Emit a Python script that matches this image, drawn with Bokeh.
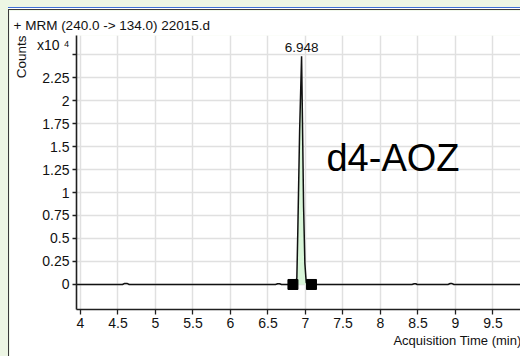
from bokeh.plotting import figure
from bokeh.layouts import column
from bokeh.models import Range1d, FixedTicker, Label, Title
from bokeh.embed import file_html
from bokeh.resources import INLINE

# MRM trace 240.0 -> 134.0, counts in units of 1e4
time_min = [3.95, 4.56, 4.59, 4.62, 4.65, 6.60, 6.63, 6.655, 6.68,
            6.86, 6.885, 6.898, 6.922, 6.948, 6.958, 6.975, 6.992, 7.01, 7.04,
            8.42, 8.45, 8.47, 8.49, 8.90, 8.93, 8.955, 8.98, 10.0]
counts_e4 = [0, 0, 0.012, 0.012, 0, 0, 0.008, 0.008, 0,
             0, 0.07, 0.59, 1.67, 2.48, 1.89, 0.84, 0.23, 0.02, 0,
             0, 0.008, 0.008, 0, 0, 0.01, 0.01, 0, 0]

# integration start / end markers
integ_time = [6.833, 7.08]
integ_counts = [0, 0]

apex_time = 6.948
apex_label = "6.948"
compound = "d4-AOZ"
title_text = "+ MRM (240.0 -> 134.0) 22015.d"
y_title = "Counts"
x_title = "Acquisition Time (min)"

x_ticks = [4, 4.5, 5, 5.5, 6, 6.5, 7, 7.5, 8, 8.5, 9, 9.5, 10]
x_tick_labels = ["4", "4.5", "5", "5.5", "6", "6.5", "7", "7.5", "8", "8.5", "9", "9.5", "10"]
y_ticks = [0, 0.25, 0.5, 0.75, 1, 1.25, 1.5, 1.75, 2, 2.25, 2.5]
y_tick_labels = ["0", "0.25", "0.5", "0.75", "1", "1.25", "1.5", "1.75", "2", "2.25", "x10 \u2074\n"]

FONT = "Liberation Sans"
INK = "#111111"

p = figure(width=511, height=346, output_backend="svg", toolbar_location=None,
           x_range=Range1d(3.947, 9.867), y_range=Range1d(-0.272, 2.707),
           min_border_left=67, min_border_right=0, min_border_top=25, min_border_bottom=47)
p.margin = (10, 0, 0, 9)
p.background_fill_color = "white"
p.border_fill_color = "white"
p.outline_line_color = None

for ax, ticks, labels, tick_out in ((p.xaxis[0], x_ticks, x_tick_labels, 5),
                                    (p.yaxis[0], y_ticks, y_tick_labels, 4)):
    ax.ticker = FixedTicker(ticks=ticks, minor_ticks=[])
    ax.major_label_overrides = dict(zip(ticks, labels))
    ax.axis_line_color = "#202020"
    ax.axis_line_width = 1.6
    ax.major_tick_line_color = "#202020"
    ax.major_tick_line_width = 1.3
    ax.major_tick_out = tick_out
    ax.major_tick_in = 0
    ax.minor_tick_line_color = None
    ax.major_label_text_font = FONT
    ax.major_label_text_font_size = "14px"
    ax.major_label_text_color = INK
    ax.major_label_standoff = 3

p.xgrid.ticker = FixedTicker(ticks=x_ticks)
p.ygrid.ticker = FixedTicker(ticks=y_ticks)
for g in (p.xgrid[0], p.ygrid[0]):
    g.grid_line_color = "#e0e0e0"
    g.grid_line_width = 1.5

# shaded integrated area
inside = [(t, c) for t, c in zip(time_min, counts_e4) if integ_time[0] < t < integ_time[1]]
fill_t = [integ_time[0]] + [t for t, _ in inside] + [integ_time[1]]
fill_c = [integ_counts[0]] + [c for _, c in inside] + [integ_counts[1]]
p.varea(x=fill_t, y1=0, y2=fill_c, fill_color="#d8f5d8")

p.line(time_min, counts_e4, line_color=INK, line_width=1.5)
p.scatter(integ_time, integ_counts, marker="square", size=10, fill_color="black", line_color="black")

apex_c = counts_e4[time_min.index(apex_time)]
p.add_layout(Label(x=apex_time, y=apex_c, text=apex_label, text_align="center", text_baseline="bottom",
                   y_offset=4, text_font=FONT, text_font_size="13.5px", text_color=INK))
p.add_layout(Label(x=7.28, y=1.37, text=compound, text_align="left", text_baseline="middle",
                   text_font=FONT, text_font_size="38px", text_color="black"))

# header, vertical and horizontal axis titles
p.add_layout(Title(text=title_text, align="left", offset=-63, vertical_align="bottom", standoff=6,
                   text_font=FONT, text_font_size="13.5px", text_font_style="normal", text_color=INK), "above")
p.add_layout(Title(text=y_title, align="right", offset=0, vertical_align="top", standoff=7,
                   text_font=FONT, text_font_size="13.5px", text_font_style="normal", text_color=INK), "left")
p.add_layout(Title(text=x_title, align="right", offset=-1, vertical_align="top", standoff=5,
                   text_font=FONT, text_font_size="13px", text_font_style="normal", text_color=INK), "below")

# window frame around the chart
frame_bg = ("linear-gradient(#3d6fd6,#3d6fd6) 8px 7px / 100% 1px no-repeat, "
            "linear-gradient(#ffffff,#ffffff) 8px 8px / 100% 1px no-repeat, "
            "linear-gradient(#3a3a3a,#3a3a3a) 8px 9px / 100% 1px no-repeat, "
            "linear-gradient(#3a3a3a,#3a3a3a) 8px 9px / 1px 100% no-repeat, "
            "#edf6e4")
page = column(p, styles={"background": frame_bg})

open("out.html", "w").write(file_html(page, INLINE))
